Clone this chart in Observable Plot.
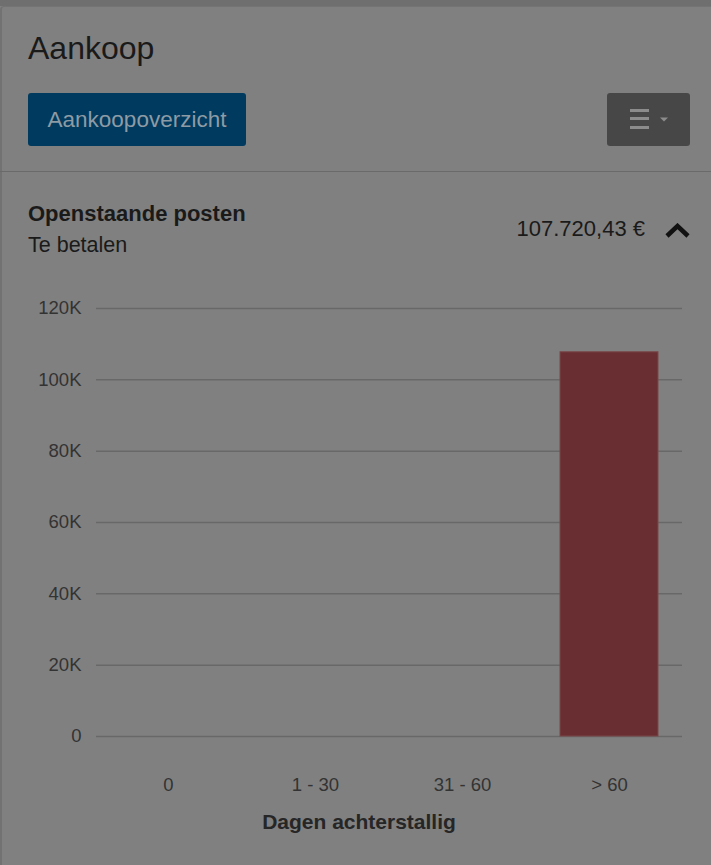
<!DOCTYPE html>
<html>
<head>
<meta charset="utf-8">
<script src="https://cdn.jsdelivr.net/npm/d3@7"></script>
<script src="https://cdn.jsdelivr.net/npm/@observablehq/plot@0.6"></script>
<style>
  html, body { margin: 0; padding: 0; }
  body { width: 711px; height: 865px; background: #808080; font-family: "Liberation Sans", Arial, sans-serif; position: relative; overflow: hidden; }
  .strip { position: absolute; left: 0; top: 0; width: 711px; height: 6px; background: #6f6f6f; }
  .card { position: absolute; left: 0; top: 6px; width: 720px; height: 880px; border-left: 2px solid #727272; border-top: 1px solid #747474; border-top-left-radius: 4px; box-sizing: border-box; }
  .title { position: absolute; left: 28px; top: 30px; font-size: 32px; color: #1a1a1a; line-height: 36px; }
  .btn { position: absolute; left: 28px; top: 93px; width: 218px; height: 53px; background: #003a5e; border-radius: 3px; color: #8d9ba5; font-size: 22.5px; line-height: 53px; text-align: center; }
  .menu { position: absolute; left: 607px; top: 93px; width: 83px; height: 53px; background: #474747; border-radius: 3px; }
  .sep { position: absolute; left: 0; top: 171px; width: 711px; height: 1px; background: #6a6a6a; }
  .h1 { position: absolute; left: 28px; top: 202px; font-size: 22px; font-weight: bold; color: #1a1a1a; line-height: 24px; }
  .h2 { position: absolute; left: 28px; top: 232.5px; font-size: 21.5px; color: #1a1a1a; line-height: 24px; }
  .amount { position: absolute; right: 66px; top: 217px; font-size: 22px; color: #1a1a1a; line-height: 24px; }
  .chev { position: absolute; left: 664px; top: 223px; }
  #chart { position: absolute; left: 0; top: 280px; }
  .xlabel { position: absolute; left: 0; width: 718px; top: 810px; text-align: center; font-size: 21px; font-weight: bold; color: #262626; line-height: 24px; }
</style>
</head>
<body>
<div class="strip"></div>
<div class="card"></div>
<div class="title">Aankoop</div>
<div class="btn">Aankoopoverzicht</div>
<div class="menu">
  <svg width="83" height="53">
    <rect x="23" y="16" width="19" height="3" fill="#8c8c8c"/>
    <rect x="23" y="24" width="19" height="3" fill="#8c8c8c"/>
    <rect x="23" y="33" width="19" height="3" fill="#8c8c8c"/>
    <path d="M53 24.5 L61 24.5 L57 28.5 Z" fill="#8c8c8c"/>
  </svg>
</div>
<div class="sep"></div>
<div class="h1">Openstaande posten</div>
<div class="h2">Te betalen</div>
<div class="amount">107.720,43 €</div>
<svg class="chev" width="28" height="16"><path d="M3 13 L13.5 3 L24 13" fill="none" stroke="#111" stroke-width="4.5"/></svg>
<div id="chart"></div>
<div class="xlabel">Dagen achterstallig</div>
<script>
const categories = ["0", "1 - 30", "31 - 60", "> 60"];
const values = [0, 0, 0, 107720.43];
const yTicks = [0, 20000, 40000, 60000, 80000, 100000, 120000];
const yTickLabels = ["0", "20K", "40K", "60K", "80K", "100K", "120K"];

const data = categories.map((c, i) => ({category: c, value: values[i]}));

const chart = Plot.plot({
  width: 711,
  height: 526,
  marginTop: 28,
  marginBottom: 70,
  marginLeft: 96,
  marginRight: 29,
  style: {background: "transparent", fontFamily: "Liberation Sans, Arial, sans-serif", fontSize: "18.5px", color: "#333"},
  x: {domain: categories, paddingInner: 0.33, paddingOuter: 0.15, label: null},
  y: {domain: [0, 120000], label: null},
  marks: [
    Plot.gridY(yTicks, {stroke: "#686868", strokeOpacity: 1, strokeWidth: 1.5}),
    Plot.barY(data, {x: "category", y: "value", fill: "#692e31", stroke: "#7a4648", strokeWidth: 1}),
    Plot.axisY(yTicks, {tickSize: 0, tickPadding: 15, tickFormat: (d, i) => yTickLabels[yTicks.indexOf(d)], label: null, fill: "#333"}),
    Plot.axisX({tickSize: 0, tickPadding: 41, label: null, fill: "#333"})
  ]
});
document.getElementById("chart").appendChild(chart);
</script>
</body>
</html>
